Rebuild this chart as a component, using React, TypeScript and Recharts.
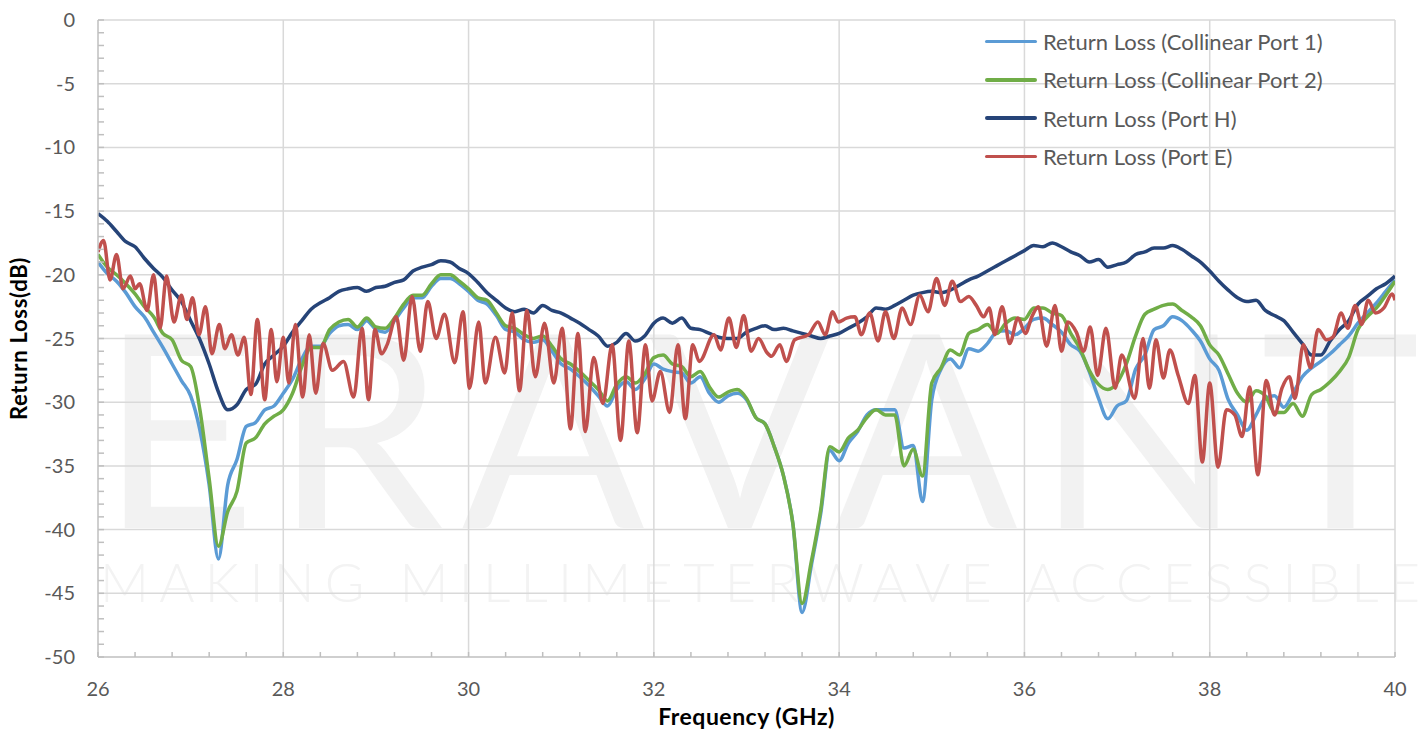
import React from "react";
import { Legend, Line, LineChart, ReferenceLine, XAxis, YAxis } from "recharts";

// sampling grid for the three smooth traces (GHz, 0.1 step)
const freq = Array.from({ length: 141 }, (_, i) => Math.round((26 + i * 0.1) * 10) / 10);

const seriesNames = [
  "Return Loss (Collinear Port 1)",
  "Return Loss (Collinear Port 2)",
  "Return Loss (Port H)",
  "Return Loss (Port E)",
];

// Return Loss (Collinear Port 1), dB
const collinear1 = [
  -19.0, -19.9, -20.5, -21.4, -22.5, -23.3, -24.5, -25.7, -27.0, -28.3,
  -29.5, -32.2, -36.5, -42.3, -36.5, -34.5, -31.9, -31.6, -30.6, -30.3,
  -29.3, -28.2, -26.6, -25.6, -25.6, -24.6, -24.0, -23.9, -24.3, -23.6,
  -24.3, -24.5, -23.6, -22.6, -21.8, -21.8, -20.9, -20.3, -20.3, -20.7,
  -21.3, -22.0, -22.3, -23.2, -24.3, -24.5, -25.1, -25.3, -25.1, -26.0,
  -27.0, -27.4, -28.0, -28.7, -29.5, -30.3, -29.0, -28.4, -29.0, -28.2,
  -27.0, -27.4, -27.6, -27.7, -28.5, -28.0, -29.3, -30.0, -29.5, -29.3,
  -29.8, -31.2, -31.7, -33.5, -35.8, -39.5, -46.5, -42.8, -38.8, -33.8,
  -34.6, -33.2, -32.3, -31.0, -30.6, -30.6, -30.6, -33.6, -33.4, -37.8,
  -29.8, -27.4, -26.6, -27.3, -25.8, -26.0, -25.4, -24.5, -24.4, -24.7,
  -24.2, -23.5, -23.4, -23.9, -24.5, -25.5, -26.0, -27.6, -29.7, -31.3,
  -30.3, -29.9, -27.4, -26.3, -24.3, -24.0, -23.3, -23.6, -24.3, -25.2,
  -26.6, -27.5, -29.8, -31.0, -32.2, -31.0, -29.7, -29.5, -30.4, -29.3,
  -28.0, -27.3, -26.8, -26.2, -25.5, -24.8, -23.8, -23.0, -22.2, -21.3,
  -20.4,
];

// Return Loss (Collinear Port 2), dB
const collinear2 = [
  -18.4, -19.4, -20.0, -20.7, -21.5, -22.5, -23.3, -24.6, -25.1, -26.7,
  -27.2, -30.6, -36.0, -41.3, -38.6, -37.0, -33.2, -32.8, -31.7, -31.1,
  -30.6, -29.3, -27.2, -25.7, -25.7, -24.3, -23.7, -23.5, -24.1, -23.4,
  -24.1, -24.2, -23.4, -22.3, -21.6, -21.6, -20.7, -20.0, -20.0, -20.5,
  -21.1, -21.8, -22.0, -23.0, -24.0, -24.2, -24.7, -25.0, -24.8, -25.6,
  -26.6, -27.0, -27.6, -28.3, -29.0, -29.9, -28.6, -28.0, -28.5, -27.8,
  -26.5, -26.3, -27.0, -27.2, -28.0, -27.6, -28.8, -29.6, -29.2, -29.0,
  -29.7, -31.2, -31.7, -33.5, -35.8, -39.5, -45.8, -42.5, -38.5, -33.5,
  -33.9, -32.8, -32.2, -31.2, -30.6, -31.0, -31.0, -35.0, -33.7, -35.8,
  -28.5, -27.3, -25.9, -26.3, -24.6, -24.3, -23.9, -24.6, -23.8, -23.4,
  -23.5, -22.6, -22.6, -23.0, -23.2, -24.6, -25.8, -27.5, -28.6, -29.0,
  -28.5, -27.0, -24.8, -23.1, -22.7, -22.4, -22.3, -22.8, -23.3, -24.0,
  -25.5, -26.3, -27.8, -29.3, -30.0, -29.1, -29.5, -30.8, -30.8, -30.1,
  -31.1, -29.4, -29.0, -28.4, -27.6, -26.5, -24.3, -23.3, -22.6, -21.6,
  -20.5,
];

// Return Loss (Port H), dB
const portH = [
  -15.2, -15.8, -16.6, -17.4, -17.8, -18.7, -19.5, -20.2, -21.2, -22.1,
  -23.6, -25.1, -27.0, -29.2, -30.6, -30.2, -29.0, -28.6, -27.0, -26.3,
  -25.6, -24.5, -23.6, -22.7, -22.2, -21.8, -21.3, -21.1, -21.0, -21.3,
  -21.0, -20.9, -20.6, -20.4, -19.7, -19.4, -19.2, -18.9, -19.0, -19.5,
  -19.9, -20.6, -21.4, -22.0, -22.6, -22.9, -22.7, -23.0, -22.4, -22.8,
  -23.0, -23.4, -23.8, -24.3, -24.8, -25.6, -25.3, -24.6, -25.2, -24.8,
  -23.8, -23.4, -23.8, -23.4, -24.2, -24.3, -24.6, -24.9, -25.0, -25.0,
  -24.5, -24.2, -24.0, -24.3, -24.2, -24.4, -24.6, -24.8, -25.0, -24.8,
  -24.6, -24.2, -23.8, -23.3, -22.6, -22.7, -22.4, -22.0, -21.6, -21.4,
  -21.3, -21.4, -21.2, -20.8, -20.4, -20.1, -19.7, -19.3, -18.9, -18.5,
  -18.1, -17.7, -17.8, -17.5, -17.8, -18.2, -18.5, -19.0, -18.8, -19.4,
  -19.2, -19.0, -18.4, -18.2, -17.9, -17.9, -17.7, -18.0, -18.5, -19.0,
  -19.7, -20.5, -21.2, -21.8, -22.1, -22.0, -22.8, -23.2, -23.6, -24.5,
  -25.4, -26.3, -26.3, -25.2, -24.3, -23.6, -22.3, -21.7, -21.1, -20.7,
  -20.1,
];

// Return Loss (Port E): read at its peaks and troughs
const portEFreq = [
  26.0, 26.06, 26.13, 26.2, 26.27, 26.35, 26.4, 26.45, 26.53, 26.6,
  26.67, 26.74, 26.82, 26.9, 26.96, 27.02, 27.09, 27.16, 27.23, 27.31,
  27.37, 27.44, 27.51, 27.58, 27.65, 27.72, 27.8, 27.87, 27.93, 28.0,
  28.06, 28.13, 28.21, 28.28, 28.35, 28.43, 28.53, 28.65, 28.76, 28.85,
  28.92, 28.99, 29.06, 29.12, 29.22, 29.3, 29.39, 29.48, 29.56, 29.65,
  29.74, 29.85, 29.94, 30.01, 30.11, 30.18, 30.29, 30.39, 30.47, 30.55,
  30.63, 30.72, 30.82, 30.92, 31.01, 31.1, 31.18, 31.26, 31.35, 31.45,
  31.55, 31.64, 31.73, 31.82, 31.91, 31.98, 32.07, 32.17, 32.26, 32.34,
  32.42, 32.49, 32.65, 32.72, 32.81, 32.89, 32.97, 33.05, 33.13, 33.22,
  33.27, 33.36, 33.43, 33.52, 33.67, 33.77, 33.85, 33.93, 33.99, 34.08,
  34.17, 34.24, 34.33, 34.42, 34.5, 34.59, 34.68, 34.77, 34.87, 34.96,
  35.05, 35.14, 35.22, 35.31, 35.4, 35.48, 35.56, 35.62, 35.68, 35.76,
  35.84, 35.93, 36.01, 36.08, 36.15, 36.24, 36.33, 36.4, 36.47, 36.56,
  36.64, 36.71, 36.79, 36.88, 36.98, 37.05, 37.19, 37.28, 37.35, 37.42,
  37.5, 37.57, 37.66, 37.77, 37.84, 37.92, 38.0, 38.09, 38.18, 38.27,
  38.35, 38.43, 38.52, 38.61, 38.7, 38.78, 38.86, 38.92, 39.01, 39.09,
  39.17, 39.26, 39.33, 39.42, 39.49, 39.57, 39.64, 39.71, 39.79, 39.88,
  39.97, 40.0,
];
const portE = [
  -18.2, -17.3, -20.4, -18.4, -21.1, -20.1, -21.1, -20.7, -22.8, -20.0,
  -24.2, -20.1, -23.7, -21.6, -23.5, -21.8, -24.7, -22.5, -26.2, -23.9,
  -25.8, -24.7, -26.3, -24.9, -29.4, -23.5, -29.8, -24.3, -28.4, -24.9,
  -28.5, -23.9, -29.6, -24.7, -29.3, -25.4, -27.5, -26.8, -29.6, -24.2,
  -29.8, -24.3, -26.2, -25.5, -23.3, -26.7, -21.7, -26.0, -22.1, -25.0,
  -23.1, -26.9, -22.9, -28.9, -23.7, -28.5, -24.9, -27.7, -23.0, -29.1,
  -22.8, -28.0, -23.8, -28.5, -24.2, -32.1, -24.6, -32.3, -26.5, -30.1,
  -25.5, -33.0, -25.2, -32.4, -25.5, -29.9, -27.6, -30.8, -25.5, -31.3,
  -25.5, -26.8, -24.7, -25.9, -23.4, -25.7, -23.2, -26.0, -25.0, -26.1,
  -26.4, -25.5, -26.8, -25.1, -24.7, -23.7, -24.7, -22.9, -23.7, -23.4,
  -23.3, -24.7, -23.0, -25.2, -22.9, -25.0, -22.6, -23.9, -21.6, -22.9,
  -20.3, -22.4, -20.5, -22.1, -21.7, -22.4, -23.3, -22.6, -24.7, -22.5,
  -25.4, -23.4, -24.6, -23.3, -22.5, -25.6, -22.4, -26.0, -23.7, -24.5,
  -26.0, -24.1, -27.9, -24.2, -28.9, -26.3, -29.7, -25.0, -28.9, -25.1,
  -28.1, -25.9, -27.9, -30.1, -27.9, -34.7, -28.5, -35.1, -30.6, -31.0,
  -32.7, -28.8, -35.7, -28.3, -31.0, -28.9, -28.0, -29.7, -25.5, -27.3,
  -24.3, -25.1, -24.9, -23.0, -24.2, -22.4, -23.9, -22.0, -23.0, -22.6,
  -21.5, -22.0,
];

const xMajor = [26, 28, 30, 32, 34, 36, 38, 40];
const yMajor = [0, -5, -10, -15, -20, -25, -30, -35, -40, -45, -50];
const xMinor = Array.from({ length: 36 }, (_, i) => Math.round((26 + i * 0.4) * 10) / 10);
const yMinor = Array.from({ length: 51 }, (_, i) => (i === 0 ? 0 : -i));

const smoothRows = freq.map((f, i) => ({ f, c1: collinear1[i], c2: collinear2[i], h: portH[i] }));
const portERows = portEFreq.map((f, i) => ({ f, e: portE[i] }));

const BLUE = "#5b9bd5";
const GREEN = "#70ad47";
const NAVY = "#264478";
const RED = "#c0504d";
const GRID = "#d9d9d9";
const AXIS = "#bfbfbf";
const TEXT = "#595959";
const FONT = "Lato, 'Open Sans', sans-serif";

function YTick(props: any) {
  const { x, y, payload } = props;
  const v = payload.value;
  return (
    <g>
      <line x1={x} x2={x + 6} y1={y} y2={y} stroke={AXIS} strokeWidth={1.5} />
      {v % 5 === 0 && (
        <text x={x - 23} y={y} dy="0.35em" textAnchor="end" fill={TEXT} fontSize={20}>
          {v}
        </text>
      )}
    </g>
  );
}

function XTick(props: any) {
  const { x, y, payload } = props;
  const v = payload.value;
  const major = xMajor.some((m) => Math.abs(m - v) < 1e-6);
  return (
    <g>
      <line x1={x} x2={x} y1={y} y2={y - 5} stroke={AXIS} strokeWidth={1.5} />
      {major && (
        <text x={x} y={y + 31.5} dy="0.35em" textAnchor="middle" fill={TEXT} fontSize={20}>
          {Math.round(v)}
        </text>
      )}
    </g>
  );
}

function LegendList({ payload }: any) {
  const items = [...(payload || [])].sort(
    (a: any, b: any) => seriesNames.indexOf(a.value) - seriesNames.indexOf(b.value)
  );
  return (
    <div style={{ fontFamily: FONT }}>
      {items.map((p: any) => (
        <div key={p.value} style={{ display: "flex", alignItems: "center", height: 38.3 }}>
          <span style={{ width: 52, height: 3.5, background: p.color, borderRadius: 2, marginRight: 6, flexShrink: 0 }} />
          <span style={{ fontSize: 22, color: TEXT, whiteSpace: "nowrap" }}>{p.value}</span>
        </div>
      ))}
    </div>
  );
}

export default function App() {
  return (
    <div style={{ position: "absolute", left: 0, top: 0, width: 1423, height: 732, background: "#fff", fontFamily: FONT }}>
      <svg width={1423} height={732} style={{ position: "absolute", left: 0, top: 0 }}>
        <text x={100} y={528} fontSize={270} fill="#f2f2f2" textLength={1320} lengthAdjust="spacing">
          ERAVANT
        </text>
        <text x={100} y={602} fontSize={54} fontWeight={300} fill="#f3f3f3" textLength={1320} lengthAdjust="spacing">
          MAKING MILLIMETERWAVE ACCESSIBLE
        </text>
      </svg>
      <div style={{ position: "absolute", left: 0, top: 0 }}>
        <LineChart width={1423} height={732} data={smoothRows} margin={{ top: 20, right: 28, bottom: 0, left: 8 }}>
          <XAxis
            type="number"
            dataKey="f"
            domain={[26, 40]}
            ticks={xMinor}
            interval={0}
            tick={<XTick />}
            tickLine={false}
            tickSize={0}
            tickMargin={0}
            height={75}
            allowDataOverflow
            axisLine={{ stroke: AXIS, strokeWidth: 1.5 }}
            label={{
              value: "Frequency (GHz)",
              position: "insideBottom",
              offset: 7,
              fill: "#000",
              fontSize: 23,
              fontWeight: 700,
              letterSpacing: 0.5,
            }}
          />
          <YAxis
            type="number"
            domain={[-50, 0]}
            ticks={yMinor}
            interval={0}
            tick={<YTick />}
            tickLine={false}
            tickSize={0}
            tickMargin={0}
            width={90}
            allowDataOverflow
            axisLine={{ stroke: AXIS, strokeWidth: 1.5 }}
            label={{
              value: "Return Loss(dB)",
              angle: -90,
              position: "insideLeft",
              offset: 11.5,
              fill: "#000",
              fontSize: 22,
              fontWeight: 700,
              letterSpacing: 0.7,
              style: { textAnchor: "middle" },
            }}
          />
          {yMajor
            .filter((v) => v !== -50)
            .map((v) => (
              <ReferenceLine key={`y${v}`} y={v} stroke={GRID} strokeWidth={1.5} />
            ))}
          {xMajor
            .filter((v) => v !== 26)
            .map((v) => (
              <ReferenceLine key={`x${v}`} x={v} stroke={GRID} strokeWidth={1.5} />
            ))}
          <Legend
            layout="vertical"
            align="center"
            verticalAlign="middle"
            wrapperStyle={{ left: 985, top: 22.5, width: 420 }}
            content={<LegendList />}
          />
          <Line name={seriesNames[0]} type="monotone" dataKey="c1" stroke={BLUE} strokeWidth={3.5} dot={false} isAnimationActive={false} />
          <Line name={seriesNames[1]} type="monotone" dataKey="c2" stroke={GREEN} strokeWidth={3.5} dot={false} isAnimationActive={false} />
          <Line name={seriesNames[2]} type="monotone" dataKey="h" stroke={NAVY} strokeWidth={3.5} dot={false} isAnimationActive={false} />
          <Line
            name={seriesNames[3]}
            type="monotone"
            data={portERows}
            dataKey="e"
            stroke={RED}
            strokeWidth={3.5}
            dot={false}
            isAnimationActive={false}
          />
        </LineChart>
      </div>
    </div>
  );
}
